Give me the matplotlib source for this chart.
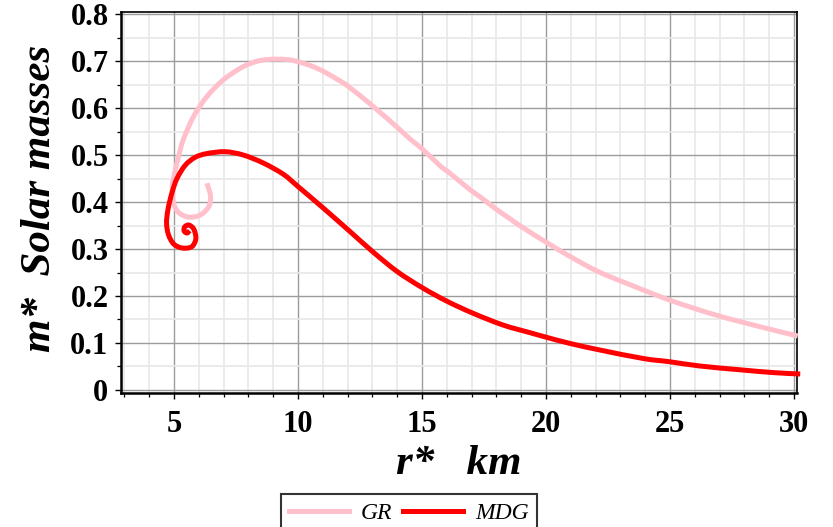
import numpy as np
import matplotlib
matplotlib.use("Agg")
import matplotlib.pyplot as plt
from matplotlib.ticker import MultipleLocator, FixedLocator
from matplotlib.lines import Line2D
from matplotlib.path import Path
from matplotlib.patches import PathPatch

# Mass-radius sequences (r* in km, m* in solar masses), listed from the
# high-density spiral end out to large radius.
gr_r = [6.33, 6.47, 6.40, 6.05, 5.60, 5.20, 4.98, 4.93, 5.04, 5.20, 5.37,
        5.78, 6.32, 6.99, 7.79, 8.47, 9.14, 9.81, 10.75, 11.65, 12.10,
        13.04, 14.04, 14.52, 15.05, 15.73, 16.13, 16.94, 17.34, 18.01,
        18.42, 19.08, 19.96, 20.97, 22.10, 23.25, 25.00, 26.88, 28.90, 30.15]
gr_m = [0.440, 0.413, 0.390, 0.372, 0.368, 0.377, 0.398, 0.433, 0.465,
        0.500, 0.532, 0.581, 0.624, 0.660, 0.688, 0.701, 0.704, 0.701,
        0.685, 0.659, 0.643, 0.603, 0.557, 0.534, 0.511, 0.477, 0.461,
        0.426, 0.411, 0.384, 0.369, 0.345, 0.316, 0.284, 0.252, 0.227,
        0.191, 0.159, 0.131, 0.115]

mdg_r = [5.63, 5.53, 5.41, 5.43, 5.60, 5.80, 5.88, 5.72, 5.35, 5.00, 4.78,
         4.70, 4.76, 4.92, 5.12, 5.45, 5.85, 6.32, 7.06, 7.79, 8.60, 9.41,
         10.00, 11.00, 12.10, 13.04, 14.00, 15.00, 16.00, 17.07,
         18.28, 19.35, 19.96, 20.97, 22.18, 23.92, 25.00, 26.21, 27.82,
         29.17, 30.25]
mdg_m = [0.339, 0.334, 0.338, 0.347, 0.351, 0.342, 0.322, 0.305, 0.302,
         0.310, 0.330, 0.355, 0.385, 0.420, 0.450, 0.478, 0.495, 0.503,
         0.507, 0.500, 0.483, 0.459, 0.433, 0.388, 0.337, 0.293, 0.252,
         0.218, 0.189, 0.163, 0.138, 0.122, 0.113, 0.099, 0.085,
         0.067, 0.060, 0.051, 0.043, 0.037, 0.034]

x_ticks = [5, 10, 15, 20, 25, 30]
y_ticks = [0, 0.1, 0.2, 0.3, 0.4, 0.5, 0.6, 0.7, 0.8]
y_labels = ["0", "0.1", "0.2", "0.3", "0.4", "0.5", "0.6", "0.7", "0.8"]
series_names = ["GR", "MDG"]
series_colors = ["#ffc0cb", "#ff0000"]


def smooth_path(xs, ys):
    """Cubic Bezier path passing through every (x, y) point (Catmull-Rom)."""
    pts = np.column_stack([xs, ys]).astype(float)
    ext = np.vstack([2 * pts[0] - pts[1], pts, 2 * pts[-1] - pts[-2]])
    verts = [pts[0]]
    codes = [Path.MOVETO]
    for i in range(len(pts) - 1):
        p0, p1, p2, p3 = ext[i], ext[i + 1], ext[i + 2], ext[i + 3]
        verts += [p1 + (p2 - p0) / 6.0, p2 - (p3 - p1) / 6.0, p2]
        codes += [Path.CURVE4] * 3
    return Path(verts, codes)


W, H = 833, 527
fig = plt.figure(figsize=(W / 100, H / 100), dpi=100)
ax = fig.add_axes([121 / W, 1 - 393 / H, (797 - 121) / W, (393 - 12) / H])

serif = ["Liberation Serif", "DejaVu Serif"]
LW = 3.6

for (xs, ys), col, z in zip([(gr_r, gr_m), (mdg_r, mdg_m)], series_colors,
                            [3, 4]):
    ax.add_patch(PathPatch(smooth_path(xs, ys), facecolor="none",
                           edgecolor=col, lw=LW, capstyle="butt",
                           joinstyle="round", clip_on=False, zorder=z,
                           transform=ax.transData))

ax.set_xlim(2.863, 30.12)
ax.set_ylim(-0.0064, 0.8043)

ax.xaxis.set_major_locator(FixedLocator(x_ticks))
ax.xaxis.set_minor_locator(MultipleLocator(1))
ax.yaxis.set_major_locator(FixedLocator(y_ticks))
ax.yaxis.set_minor_locator(MultipleLocator(0.05))
ax.set_xticklabels([str(v) for v in x_ticks])
ax.set_yticklabels(y_labels)

for lab in ax.get_xticklabels() + ax.get_yticklabels():
    lab.set_fontfamily(serif)
    lab.set_fontweight("bold")
    lab.set_fontsize(22)

ax.tick_params(which="major", direction="out", length=4.5, width=1.0,
               color="black")
ax.tick_params(which="minor", direction="out", length=2.8, width=0.9,
               color="black")
ax.tick_params(axis="x", which="major", pad=8)
ax.tick_params(axis="y", which="major", pad=4.5)

ax.set_axisbelow(True)
ax.grid(which="minor", color="#e8e8e8", lw=1.2)
ax.grid(which="major", color="#9c9c9c", lw=1.0)

for side in ["left", "bottom"]:
    ax.spines[side].set_linewidth(1.8)
for side in ["top", "right"]:
    ax.spines[side].set_linewidth(1.2)
for sp in ax.spines.values():
    sp.set_color("black")

fig.text(459 / W, 1 - 464 / H, "r*   km", ha="center", va="center",
         fontfamily=serif, fontweight="bold", fontstyle="italic", fontsize=31)
fig.text(40 / W, 1 - 198 / H, "m*  Solar masses", ha="center", va="center",
         rotation=90, fontfamily=serif, fontweight="bold", fontstyle="italic",
         fontsize=31)

handles = [Line2D([], [], color=c, lw=LW) for c in series_colors]
leg = fig.legend(handles, series_names, loc="upper center",
                 bbox_to_anchor=(409 / W, 1 - 494 / H), ncol=2,
                 frameon=True, fancybox=False, shadow=False,
                 handlelength=2.55, handletextpad=0.5, columnspacing=0.45,
                 borderpad=0.35, borderaxespad=0,
                 prop={"family": serif, "style": "italic", "size": 17})
leg.get_frame().set_edgecolor("black")
leg.get_frame().set_linewidth(1.5)

fig.savefig("out.png", dpi=100)
